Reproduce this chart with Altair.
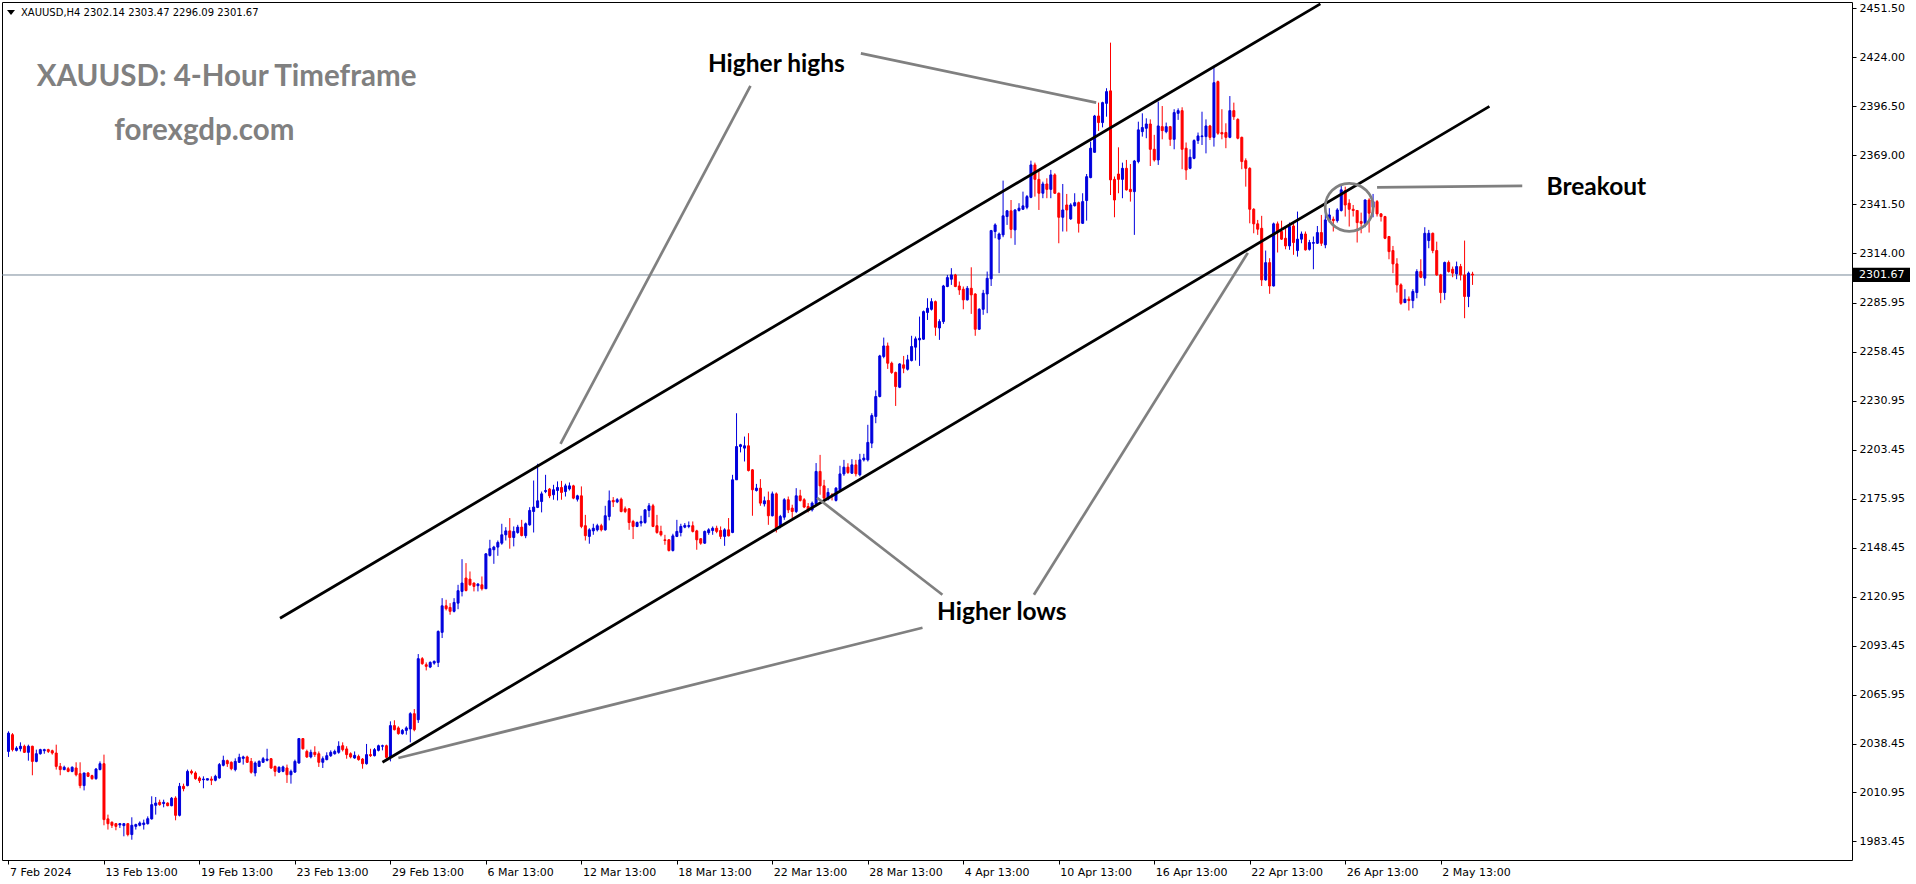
import altair as alt
import pandas as pd

# ---------------- data ----------------
opens = [2034.0,2043.4,2034.6,2035.5,2036.9,2033.5,2036.9,2028.4,2032.7,2034.4,2035.0,2034.4,2033.1,2025.6,2023.8,2024.3,2022.8,2024.7,2021.5,2014.8,
2021.9,2020.4,2018.7,2023.8,2027.1,1996.1,1994.2,1993.4,1992.7,1992.3,1993.4,1987.3,1991.9,1992.5,1992.9,1993.4,1996.1,2003.7,2005.4,2004.7,
2005.0,2003.5,2007.8,1998.1,2014.4,2014.8,2022.8,2021.9,2019.1,2018.1,2017.9,2018.5,2017.8,2019.1,2026.2,2028.8,2027.9,2023.8,2027.9,2030.1,
2030.9,2028.4,2021.9,2025.6,2027.9,2029.0,2029.9,2025.6,2022.4,2022.8,2024.7,2020.9,2022.4,2027.5,2041.2,2034.0,2030.9,2033.5,2032.7,2027.9,
2029.4,2031.6,2032.7,2033.5,2037.2,2035.4,2032.7,2030.3,2031.2,2029.7,2027.1,2032.2,2031.6,2034.6,2036.9,2037.2,2030.7,2048.5,2047.2,2044.0,
2045.8,2046.6,2055.2,2051.8,2086.1,2082.7,2081.4,2083.6,2084.0,2100.9,2115.8,2114.9,2112.7,2117.3,2123.9,2131.4,2130.8,2128.6,2127.1,2127.6,
2125.4,2144.1,2147.3,2148.8,2151.0,2155.7,2157.9,2154.2,2157.0,2160.0,2155.2,2161.3,2168.8,2171.1,2174.4,2180.0,2181.4,2178.2,2180.6,2182.3,
2180.0,2181.5,2183.2,2175.7,2177.6,2160.8,2154.8,2157.9,2158.5,2160.8,2158.5,2166.0,2175.0,2174.2,2175.7,2170.3,2170.3,2163.2,2160.4,2162.3,
2162.6,2169.4,2172.0,2160.8,2157.6,2152.9,2152.9,2146.9,2154.8,2157.0,2160.0,2160.4,2160.8,2157.9,2153.5,2151.0,2156.9,2158.1,2159.4,2158.1,
2154.8,2158.5,2157.0,2186.6,2205.3,2204.4,2205.7,2192.2,2180.6,2181.9,2173.1,2175.0,2166.4,2178.7,2160.4,2165.6,2175.4,2170.7,2168.8,2177.6,
2175.4,2171.6,2169.7,2173.1,2191.3,2183.2,2175.7,2178.2,2175.0,2181.0,2189.9,2193.7,2190.3,2195.0,2189.4,2197.8,2197.8,2207.2,2222.2,2233.4,
2255.9,2261.8,2252.1,2246.9,2238.6,2251.2,2248.7,2253.6,2261.1,2265.2,2265.6,2280.6,2282.4,2286.7,2271.9,2275.5,2295.2,2299.3,2301.7,2295.5,
2293.7,2287.7,2294.2,2291.0,2271.2,2282.4,2291.0,2299.5,2326.1,2321.8,2324.2,2334.5,2337.7,2327.0,2337.9,2338.6,2339.7,2345.3,2363.5,2355.4,
2347.6,2352.8,2349.8,2357.9,2347.6,2334.1,2341.0,2333.2,2340.6,2342.3,2330.7,2343.5,2356.4,2370.6,2391.0,2387.3,2398.1,2405.1,2355.4,2358.4,
2355.4,2361.6,2349.8,2348.5,2365.4,2382.2,2384.1,2386.5,2372.3,2366.3,2385.0,2382.2,2385.0,2377.9,2392.5,2394.0,2372.9,2361.6,2367.2,2377.2,
2379.4,2379.4,2385.4,2379.0,2410.3,2381.7,2381.7,2379.0,2394.0,2389.1,2379.0,2365.9,2361.6,2338.6,2330.4,2327.9,2298.9,2308.6,2295.5,2330.4,
2326.1,2322.3,2318.0,2329.2,2315.4,2321.8,2324.7,2316.1,2319.5,2319.5,2325.5,2318.6,2332.6,2333.0,2332.2,2337.9,2349.1,2342.0,2338.6,2337.9,
2331.7,2330.7,2343.8,2339.7,2342.9,2336.0,2334.5,2323.3,2315.4,2307.9,2296.1,2286.2,2288.1,2287.3,2291.8,2303.6,2299.9,2321.0,2325.1,2315.4,
2301.7,2291.8,2308.7,2304.9,2302.3,2306.4,2301.7,2289.6,2302.14]

highs = [2045.3,2044.3,2036.9,2039.1,2037.8,2037.8,2037.2,2035.0,2035.5,2035.5,2035.5,2035.0,2037.8,2027.5,2026.0,2025.3,2025.6,2027.9,2027.9,2021.9,
2022.3,2020.9,2024.7,2028.4,2032.2,1998.5,1994.7,1993.8,1993.8,1993.8,1993.8,1997.0,1993.4,1994.7,1995.7,1997.5,2008.8,2008.4,2006.9,2006.9,
2005.4,2008.4,2008.8,2016.3,2015.9,2023.8,2023.8,2022.8,2020.0,2020.0,2018.7,2020.0,2020.9,2027.5,2031.6,2029.4,2028.4,2030.1,2032.7,2031.6,
2031.6,2030.3,2028.4,2029.0,2030.9,2035.5,2030.3,2026.0,2025.6,2026.0,2026.6,2023.8,2029.4,2041.5,2041.5,2035.0,2035.0,2036.9,2034.0,2031.2,
2033.5,2034.6,2035.0,2039.7,2039.1,2036.9,2033.5,2034.0,2032.2,2030.3,2038.2,2035.5,2035.9,2037.8,2037.8,2037.8,2050.9,2051.5,2048.1,2046.6,
2048.1,2056.0,2057.8,2088.7,2087.0,2084.0,2084.6,2085.1,2102.0,2120.1,2119.2,2117.3,2120.1,2127.6,2142.0,2139.8,2135.1,2128.9,2128.6,2132.3,
2145.4,2152.9,2149.5,2152.5,2161.9,2160.0,2165.1,2160.4,2161.3,2164.1,2162.6,2171.2,2186.2,2195.6,2180.0,2189.4,2182.0,2183.8,2185.7,2186.0,
2184.4,2185.1,2183.8,2178.2,2182.9,2166.9,2159.4,2161.9,2161.9,2161.9,2172.0,2180.6,2176.9,2176.3,2176.6,2171.6,2170.7,2164.1,2163.2,2166.4,
2170.1,2173.5,2173.1,2166.9,2160.8,2155.7,2153.3,2156.3,2164.1,2161.9,2162.3,2163.2,2163.2,2158.5,2153.8,2158.1,2159.4,2160.4,2160.8,2160.4,
2159.4,2165.1,2189.4,2224.0,2206.8,2210.9,2212.8,2192.6,2184.3,2187.0,2177.2,2180.0,2180.0,2179.5,2166.9,2176.3,2177.2,2172.6,2181.9,2181.0,
2176.3,2173.5,2174.4,2196.0,2200.6,2186.6,2181.9,2179.1,2182.5,2194.5,2197.8,2195.9,2198.2,2197.8,2201.2,2201.2,2217.5,2224.0,2236.8,2256.8,
2266.5,2263.7,2253.0,2247.4,2252.1,2256.2,2256.8,2267.5,2267.1,2278.3,2281.7,2288.6,2288.6,2287.3,2276.8,2296.1,2301.7,2305.5,2302.3,2298.0,
2295.2,2295.5,2306.0,2291.4,2283.0,2293.3,2303.6,2327.0,2330.7,2325.5,2354.7,2338.2,2343.8,2338.6,2342.0,2348.5,2346.6,2365.9,2364.8,2360.7,
2354.1,2356.0,2360.7,2358.8,2348.0,2352.8,2347.2,2342.0,2347.6,2342.9,2347.6,2358.4,2376.6,2391.6,2398.5,2399.0,2406.6,2432.2,2357.0,2373.4,
2364.8,2366.3,2364.0,2366.3,2387.8,2392.5,2389.7,2389.1,2380.4,2399.1,2396.6,2387.3,2385.4,2394.8,2395.3,2395.9,2376.1,2372.3,2377.9,2381.7,
2393.4,2389.1,2386.0,2418.7,2410.9,2394.8,2386.9,2402.2,2398.5,2389.7,2379.4,2367.2,2362.2,2339.2,2332.6,2334.9,2315.4,2311.1,2331.1,2331.7,
2332.2,2328.5,2331.1,2330.4,2337.3,2326.1,2326.1,2321.4,2323.3,2329.2,2335.4,2342.9,2339.2,2334.5,2339.2,2351.7,2351.3,2344.2,2341.0,2338.2,
2336.7,2344.2,2344.8,2347.2,2343.8,2336.4,2334.9,2323.6,2318.0,2311.1,2297.0,2293.7,2289.6,2293.7,2304.9,2310.5,2328.5,2327.0,2325.5,2320.4,
2302.3,2309.2,2309.8,2306.4,2309.2,2307.9,2321.0,2303.6,2303.47]

lows = [2030.9,2034.0,2034.0,2034.0,2033.1,2028.8,2020.6,2027.9,2032.2,2032.7,2033.1,2032.2,2023.8,2020.6,2023.4,2022.3,2022.3,2020.0,2013.3,2012.1,
2019.6,2018.1,2018.1,2023.4,1992.5,1990.1,1991.0,1989.7,1991.0,1986.3,1986.3,1984.4,1990.1,1991.9,1990.1,1992.9,1995.7,1998.5,2003.5,2002.6,
2003.2,2003.2,1995.3,1997.5,2011.6,2014.4,2021.0,2018.1,2016.3,2013.3,2017.8,2015.1,2017.2,2018.7,2025.6,2025.3,2023.4,2022.8,2027.5,2026.6,
2027.5,2021.5,2020.0,2025.3,2027.5,2028.4,2024.1,2020.0,2021.9,2022.3,2016.3,2015.9,2021.9,2027.1,2035.0,2030.3,2030.1,2030.9,2025.3,2024.7,
2029.0,2030.9,2032.2,2032.7,2034.0,2029.9,2030.1,2029.9,2028.8,2024.3,2026.6,2030.9,2031.2,2034.0,2034.6,2029.9,2028.4,2045.8,2043.4,2043.4,
2043.4,2039.1,2045.3,2050.0,2082.7,2079.5,2080.8,2082.7,2081.4,2097.7,2113.2,2110.8,2112.1,2113.9,2121.1,2123.9,2127.1,2123.9,2123.9,2124.4,
2125.4,2143.5,2139.4,2143.9,2150.1,2152.5,2147.9,2149.2,2156.3,2154.8,2153.8,2160.8,2157.0,2170.7,2168.3,2179.1,2176.3,2175.4,2175.0,2175.4,
2177.2,2180.6,2175.7,2174.4,2159.4,2152.5,2150.7,2155.7,2157.6,2157.6,2158.0,2163.8,2171.3,2173.5,2168.3,2167.9,2158.5,2153.3,2160.0,2160.4,
2161.9,2165.6,2160.0,2156.3,2154.8,2150.1,2146.3,2146.3,2154.4,2154.8,2159.4,2159.4,2157.0,2147.3,2150.1,2150.6,2155.7,2155.7,2156.6,2153.3,
2149.5,2154.8,2156.6,2186.6,2202.0,2196.9,2191.3,2166.4,2180.0,2172.0,2171.6,2161.3,2166.0,2157.0,2159.4,2164.1,2167.9,2165.1,2167.9,2174.4,
2170.7,2168.3,2168.8,2172.6,2178.2,2175.0,2175.0,2175.0,2174.4,2180.6,2188.8,2189.9,2189.9,2188.5,2188.5,2196.9,2196.9,2204.4,2218.4,2232.9,
2254.9,2248.9,2246.1,2228.1,2238.1,2246.5,2248.0,2253.1,2253.6,2250.6,2265.2,2276.4,2281.7,2267.5,2265.2,2274.2,2294.8,2296.1,2294.8,2290.5,
2282.4,2287.3,2279.8,2267.5,2270.8,2279.3,2280.2,2295.5,2322.3,2302.7,2322.9,2329.8,2322.3,2318.6,2337.3,2338.2,2338.6,2344.8,2345.7,2338.2,
2344.8,2344.8,2344.8,2347.2,2319.5,2326.1,2326.1,2332.6,2340.1,2325.5,2330.4,2332.2,2356.0,2370.4,2382.6,2384.6,2390.6,2346.6,2334.1,2347.6,
2344.8,2349.1,2342.9,2324.2,2364.4,2379.4,2378.5,2362.9,2365.4,2363.5,2377.9,2381.3,2374.2,2372.3,2388.8,2361.1,2355.1,2361.1,2366.7,2375.3,
2374.7,2370.0,2377.5,2373.8,2380.4,2377.9,2372.9,2378.5,2388.8,2377.9,2361.1,2351.3,2330.7,2325.1,2324.2,2295.5,2298.5,2291.1,2295.2,2314.3,
2321.4,2316.1,2315.8,2313.0,2312.0,2319.5,2315.4,2315.4,2304.9,2319.1,2318.0,2316.7,2331.1,2326.1,2331.1,2337.3,2334.5,2328.9,2334.5,2319.9,
2325.1,2328.5,2325.5,2334.1,2334.5,2331.7,2321.8,2310.5,2302.7,2291.8,2284.9,2285.8,2281.7,2283.0,2288.6,2299.9,2295.6,2316.7,2313.9,2301.2,
2285.8,2287.7,2303.0,2300.4,2299.3,2298.6,2277.4,2283.6,2296.09]

closes = [2044.3,2035.0,2035.9,2036.9,2033.5,2036.9,2028.4,2032.7,2035.0,2035.0,2034.0,2033.1,2025.6,2023.8,2025.1,2022.8,2025.1,2020.9,2014.8,2021.9,
2020.0,2018.7,2024.1,2027.1,1995.7,1993.4,1992.5,1991.9,1993.4,1993.4,1987.3,1992.5,1992.9,1993.8,1993.8,1996.2,2004.1,2005.0,2004.1,2005.4,
2003.5,2007.7,1998.1,2014.4,2013.1,2022.8,2021.9,2018.7,2017.6,2018.5,2018.7,2017.8,2020.0,2026.6,2029.0,2027.1,2024.3,2028.4,2030.7,2030.9,
2027.9,2022.3,2027.5,2028.4,2029.9,2029.7,2024.7,2022.8,2025.1,2025.3,2020.9,2022.8,2028.4,2041.2,2035.5,2030.9,2033.5,2032.2,2027.9,2029.9,
2031.6,2033.5,2034.0,2036.9,2035.0,2032.2,2030.9,2031.8,2029.4,2027.1,2032.2,2031.6,2035.0,2037.2,2037.2,2030.7,2048.5,2046.2,2044.0,2045.8,
2047.2,2055.2,2046.2,2086.1,2083.3,2081.8,2084.0,2084.6,2101.4,2115.8,2114.2,2112.7,2117.7,2124.3,2128.6,2124.4,2127.6,2126.7,2128.0,2125.4,
2145.0,2147.9,2148.8,2151.4,2155.7,2157.9,2154.2,2157.6,2160.0,2155.3,2161.9,2169.4,2171.3,2174.8,2178.7,2180.6,2177.6,2181.0,2182.3,2179.5,
2183.2,2183.2,2176.3,2177.6,2160.4,2155.2,2158.5,2159.4,2160.8,2158.5,2166.4,2174.8,2174.2,2175.4,2168.8,2168.8,2162.6,2160.4,2162.6,2163.2,
2169.7,2172.0,2160.4,2157.0,2155.7,2152.5,2146.9,2155.1,2157.6,2160.4,2161.0,2160.9,2157.6,2152.9,2151.0,2157.6,2158.5,2159.4,2157.6,2154.8,
2158.5,2155.1,2186.6,2205.3,2206.3,2205.7,2191.8,2181.0,2181.9,2173.5,2174.8,2166.4,2178.7,2159.4,2166.0,2175.4,2169.7,2168.8,2177.6,2175.0,
2171.3,2169.4,2173.5,2191.3,2183.2,2176.3,2179.5,2177.6,2181.9,2189.9,2193.7,2190.7,2195.0,2190.0,2197.8,2198.8,2207.6,2222.7,2233.4,2256.2,
2261.8,2252.1,2246.9,2239.0,2251.7,2249.3,2254.0,2261.5,2265.8,2266.1,2281.1,2283.0,2286.7,2272.3,2275.5,2295.5,2300.2,2301.7,2295.2,2293.3,
2287.7,2294.2,2290.5,2271.2,2282.4,2291.4,2299.8,2326.6,2329.8,2324.7,2334.9,2337.7,2327.3,2338.2,2339.2,2340.5,2345.7,2363.5,2355.4,2347.6,
2352.8,2349.8,2357.9,2347.6,2334.1,2338.2,2338.2,2341.0,2342.3,2330.7,2342.9,2356.9,2372.9,2391.0,2387.3,2398.5,2404.7,2355.1,2343.8,2355.4,
2361.6,2349.5,2348.5,2365.7,2383.2,2384.5,2386.5,2372.3,2366.3,2385.4,2382.8,2385.0,2377.9,2392.9,2394.0,2372.3,2360.7,2367.8,2377.2,2379.8,
2379.8,2385.4,2379.0,2409.7,2381.3,2380.9,2379.0,2394.0,2390.6,2378.5,2365.4,2361.6,2338.6,2330.4,2327.4,2298.9,2308.6,2295.5,2330.4,2326.1,
2321.8,2318.0,2328.9,2319.9,2321.8,2324.7,2315.8,2319.9,2319.9,2325.5,2319.5,2332.6,2335.4,2332.2,2338.2,2349.5,2341.0,2338.6,2337.9,2331.1,
2330.7,2343.8,2336.4,2342.9,2336.0,2334.5,2322.3,2314.8,2307.9,2296.1,2285.8,2288.1,2287.3,2292.4,2303.6,2300.4,2325.1,2325.1,2315.4,2301.7,
2291.8,2308.7,2303.6,2302.7,2306.4,2301.7,2289.6,2302.7,2301.67]

x_tick_labels = ["7 Feb 2024", "13 Feb 13:00", "19 Feb 13:00", "23 Feb 13:00", "29 Feb 13:00",
                 "6 Mar 13:00", "12 Mar 13:00", "18 Mar 13:00", "22 Mar 13:00", "28 Mar 13:00",
                 "4 Apr 13:00", "10 Apr 13:00", "16 Apr 13:00", "22 Apr 13:00", "26 Apr 13:00", "2 May 13:00"]
bars_per_label = 24
y_tick_values = [2451.50, 2424.00, 2396.50, 2369.00, 2341.50, 2314.00, 2285.95, 2258.45, 2230.95,
                 2203.45, 2175.95, 2148.45, 2120.95, 2093.45, 2065.95, 2038.45, 2010.95, 1983.45]
last_price = 2301.67
header_text = "XAUUSD,H4  2302.14 2303.47 2296.09 2301.67"

# trend channel (bar index, price)
channel_x1 = [68.25, 94.0]
channel_p1 = [2108.8, 2027.9]
channel_x2 = [329.75, 372.25]
channel_p2 = [2454.0, 2396.4]

# grey pointer lines (bar index, price)
pointer_x1 = [214.25, 186.5, 203.25, 98.0, 257.75, 344.0]
pointer_p1 = [2426.2, 2407.9, 2176.5, 2030.3, 2122.0, 2350.9]
pointer_x2 = [273.4, 138.75, 234.75, 229.75, 311.5, 380.5]
pointer_p2 = [2398.5, 2206.8, 2122.0, 2103.5, 2314.1, 2351.7]

circle_x = [337.0]
circle_p = [2339.7]

label_texts = ["Higher highs", "Higher lows", "Breakout"]
label_x = [175.8, 233.4, 386.6]
label_p = [2415.7, 2108.0, 2346.4]

title_texts = ["XAUUSD: 4-Hour Timeframe", "forexgdp.com"]
title_x = [7.1, 26.6]
title_p = [2407.9, 2377.3]

# ---------------- build ----------------
n = len(closes)
candles = pd.DataFrame({
    "i": list(range(n)), "open": opens, "high": highs, "low": lows, "close": closes,
})
candles["dir"] = ["up" if c >= o else "down" for o, c in zip(opens, closes)]

BLUE = "#0000dd"
RED = "#ff0000"
GREY = "#808080"

label_expr = "[" + ",".join("'" + s + "'" for s in x_tick_labels) + "][round(datum.value/%d)]" % bars_per_label

xscale = alt.Scale(domain=[-0.375, 462.125], nice=False, zero=False)
yscale = alt.Scale(domain=[1973.0, 2455.04], nice=False, zero=False)

xaxis = alt.Axis(values=[k * bars_per_label for k in range(len(x_tick_labels))], labelExpr=label_expr,
                 labelAlign="left", labelOffset=1, labelBaseline="top", labelPadding=2, tickSize=4,
                 domain=False, grid=False, title=None, labelFont="DejaVu Sans", labelFontSize=11,
                 labelColor="black", tickColor="black", labelOverlap=False, labelFlush=False)
yaxis = alt.Axis(values=y_tick_values, format=".2f", orient="right", tickSize=4, labelPadding=3,
                 domain=False, grid=False, title=None, labelFont="DejaVu Sans", labelFontSize=11,
                 labelColor="black", tickColor="black", labelOverlap=False, labelFlush=False,
                 labelBaseline="middle")

def X(field):
    return alt.X(field, type="quantitative", scale=xscale, axis=xaxis)

def Y(field):
    return alt.Y(field, type="quantitative", scale=yscale, axis=yaxis)

col = alt.Color("dir:N", scale=alt.Scale(domain=["up", "down"], range=[BLUE, RED]), legend=None)
stk = alt.Stroke("dir:N", scale=alt.Scale(domain=["up", "down"], range=[BLUE, RED]), legend=None)

base = alt.Chart(candles)
wicks = base.mark_rule(strokeWidth=1).encode(x=X("i"), y=Y("low"), y2="high", color=col)
bodies = base.mark_bar(size=2, strokeWidth=1).encode(x=X("i"), y=Y("open"), y2="close", color=col, stroke=stk)

price_df = pd.DataFrame({"p": [last_price], "t": ["%.2f" % last_price]})
price_line = alt.Chart(price_df).mark_rule(color="#778899", strokeWidth=1).encode(y=Y("p"))

chan_df = pd.DataFrame({"x": channel_x1, "y": channel_p1, "x2": channel_x2, "y2": channel_p2})
channel = alt.Chart(chan_df).mark_rule(color="black", strokeWidth=2.8).encode(
    x=X("x"), y=Y("y"), x2="x2", y2="y2")

ptr_df = pd.DataFrame({"x": pointer_x1, "y": pointer_p1, "x2": pointer_x2, "y2": pointer_p2})
pointers = alt.Chart(ptr_df).mark_rule(color=GREY, strokeWidth=2.7).encode(
    x=X("x"), y=Y("y"), x2="x2", y2="y2")

circ_df = pd.DataFrame({"x": circle_x, "y": circle_p})
circle = alt.Chart(circ_df).mark_point(shape="circle", size=2304, filled=False, color=GREY,
                                       strokeWidth=2.7, opacity=1).encode(x=X("x"), y=Y("y"))

lab_df = pd.DataFrame({"x": label_x, "y": label_p, "t": label_texts})
labels = alt.Chart(lab_df).mark_text(font="Lato", fontWeight="bold", fontSize=24.5, color="black",
                                     align="left", baseline="alphabetic").encode(x=X("x"), y=Y("y"), text="t:N")

tit_df = pd.DataFrame({"x": title_x, "y": title_p, "t": title_texts})
titles = alt.Chart(tit_df).mark_text(font="Lato", fontWeight="bold", fontSize=29.5, color=GREY,
                                     align="left", baseline="alphabetic").encode(x=X("x"), y=Y("y"), text="t:N")

# chart chrome: header and current-price box
hdr_df = pd.DataFrame({"t": [header_text]})
header = alt.Chart(hdr_df).mark_text(font="DejaVu Sans", fontSize=10, color="black", align="left",
                                     baseline="middle").encode(x=alt.value(19), y=alt.value(10.5), text="t:N")
tri = alt.Chart(hdr_df).mark_point(shape="M-1,-0.6L1,-0.6L0,0.6Z", size=64, filled=True, color="black",
                                   opacity=1).encode(x=alt.value(9), y=alt.value(10.5))

box = alt.Chart(price_df).mark_point(shape="M-1,-0.25L1,-0.25L1,0.25L-1,0.25Z", size=3249, filled=True,
                                     color="black", opacity=1).encode(x=alt.value(1879.5), y=Y("p"))
box_text = alt.Chart(price_df).mark_text(font="DejaVu Sans", fontSize=11, color="white", align="left",
                                         baseline="middle").encode(x=alt.value(1857), y=Y("p"), text="t:N")

chart = alt.layer(price_line, wicks, bodies, channel, pointers, circle, labels, titles,
                  header, tri, box, box_text).properties(
    width=1850, height=858,
    autosize=alt.AutoSizeParams(type="none"),
    padding={"left": 2, "top": 2, "right": 64, "bottom": 24},
    background="white",
).configure_view(stroke="black", strokeWidth=1)

chart.save("out.html", embed_options={"renderer": "svg", "actions": False})
